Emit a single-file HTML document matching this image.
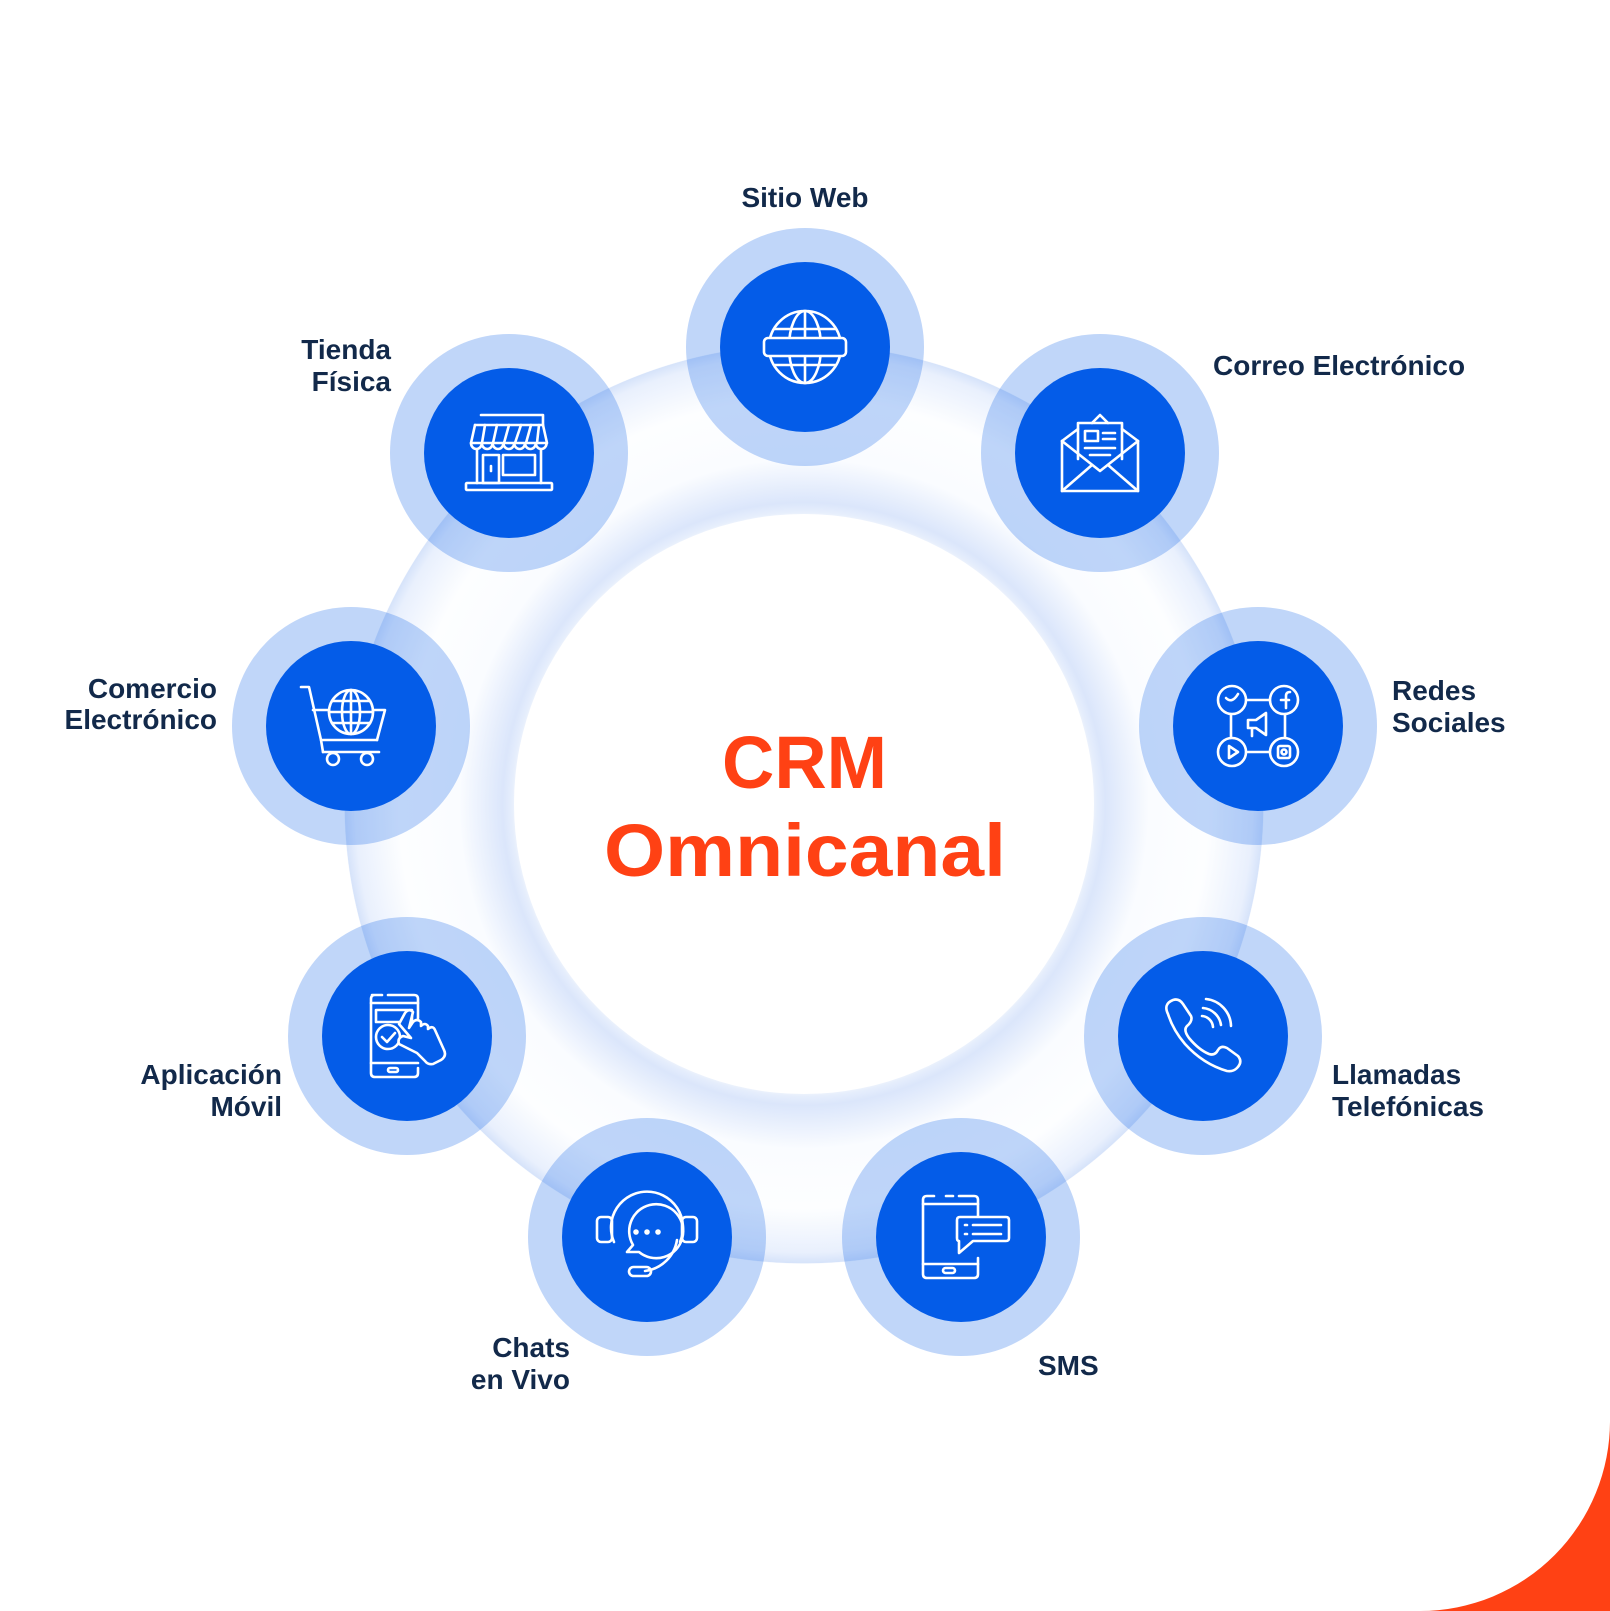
<!DOCTYPE html>
<html><head><meta charset="utf-8"><style>
html,body{margin:0;padding:0;background:#fff;}
svg{display:block;}
</style></head><body>
<svg width="1610" height="1611" viewBox="0 0 1610 1611" xmlns="http://www.w3.org/2000/svg">
<defs>
<radialGradient id="ring" cx="804" cy="804" r="460" gradientUnits="userSpaceOnUse">
<stop offset="0" stop-color="#ffffff"/>
<stop offset="0.615" stop-color="#ffffff"/>
<stop offset="0.635" stop-color="#e6eefc"/>
<stop offset="0.655" stop-color="#dbe6fb"/>
<stop offset="0.75" stop-color="#fafcff"/>
<stop offset="0.88" stop-color="#fdfeff"/>
<stop offset="0.975" stop-color="#e9f0fd"/>
<stop offset="0.998" stop-color="#d6e3fa"/>
<stop offset="1" stop-color="#ffffff" stop-opacity="0"/>
</radialGradient>
</defs>
<rect width="1610" height="1611" fill="#ff4114"/>
<path d="M0 0 H1610 V1420 A190 190 0 0 1 1420 1611 H0 Z" fill="#ffffff"/>
<circle cx="804" cy="804" r="460" fill="url(#ring)"/>
<circle cx="804" cy="804" r="290" fill="#ffffff"/>

<g fill="#045ce8" fill-opacity="0.25">
<circle cx="805" cy="347" r="119"/>
<circle cx="1100" cy="453" r="119"/>
<circle cx="1258" cy="726" r="119"/>
<circle cx="1203" cy="1036" r="119"/>
<circle cx="961" cy="1237" r="119"/>
<circle cx="647" cy="1237" r="119"/>
<circle cx="407" cy="1036" r="119"/>
<circle cx="351" cy="726" r="119"/>
<circle cx="509" cy="453" r="119"/>
</g>
<g fill="#045ce8">
<circle cx="805" cy="347" r="85"/>
<circle cx="1100" cy="453" r="85"/>
<circle cx="1258" cy="726" r="85"/>
<circle cx="1203" cy="1036" r="85"/>
<circle cx="961" cy="1237" r="85"/>
<circle cx="647" cy="1237" r="85"/>
<circle cx="407" cy="1036" r="85"/>
<circle cx="351" cy="726" r="85"/>
<circle cx="509" cy="453" r="85"/>
</g>

<g fill="none" stroke="#fff" stroke-width="2.6" stroke-linecap="round" stroke-linejoin="round">
<g transform="translate(805,347)">
<circle r="36"/>
<ellipse rx="16" ry="36"/>
<line x1="0" y1="-36" x2="0" y2="36"/>
<line x1="-31" y1="-18" x2="31" y2="-18"/>
<line x1="-31" y1="18" x2="31" y2="18"/>
<rect x="-41" y="-9" width="82" height="18" rx="4" fill="#045ce8"/>
</g>
<g transform="translate(1100,453)">
<path d="M-38 -12 V38 H38 V-12"/>
<path d="M-38 -12 L-22 -24 M38 -12 L22 -24"/>
<path d="M-38 38 L-8 12 M38 38 L8 12"/>
<path d="M-38 -12 L0 18 L38 -12"/>
<path d="M-22 6 V-30 H22 V6"/>
<path d="M-8 -30 L0 -38 L8 -30"/>
<rect x="-15" y="-22" width="13" height="10"/>
<line x1="3" y1="-20" x2="15" y2="-20"/><line x1="3" y1="-14" x2="15" y2="-14"/>
<line x1="-15" y1="-5" x2="15" y2="-5"/><line x1="-10" y1="2" x2="10" y2="2"/>
</g>
<g transform="translate(1258,726)">
<rect x="-27" y="-26" width="54" height="52" rx="14"/>
<circle cx="-26" cy="-26" r="14" fill="#045ce8"/>
<circle cx="26" cy="-26" r="14" fill="#045ce8"/>
<circle cx="-26" cy="26" r="14" fill="#045ce8"/>
<circle cx="26" cy="26" r="14" fill="#045ce8"/>
<path d="M-32 -28 q6 6 12 -4"/>
<path d="M28 -18 V-30 q0 -4 4 -4 M23 -26 H31"/>
<path d="M-29 20 V32 L-20 26 Z"/>
<rect x="20" y="20" width="12" height="12" rx="2"/><circle cx="26" cy="26" r="2.5"/>
<path d="M-10 -6 H-2 L8 -13 V9 L-2 2 H-10 Z M-6 2 V10"/>
</g>
<g transform="translate(1203,1036)">
<path d="M-35 -22 Q-40 -32 -30 -36 Q-24 -38 -20 -32 L-12 -20 Q-10 -15 -16 -10 Q-20 -6 -14 2 Q-4 14 6 18 Q12 20 15 14 Q18 9 24 12 L35 20 Q40 26 34 32 Q30 36 24 35 Q0 28 -18 8 Q-30 -6 -35 -22 Z"/>
<path d="M-1 -20 A12 12 0 0 1 10 -9"/>
<path d="M0 -28 A20 20 0 0 1 18 -11"/>
<path d="M3 -37 A28 28 0 0 1 28 -10"/>
</g>
<g transform="translate(961,1237)">
<path d="M-15 -41 H-8 M-2 -41 H13 Q17 -41 17 -37 V-20 M17 21 V37 Q17 41 13 41 H-34 Q-38 41 -38 37 V-37 Q-38 -41 -34 -41 H-27"/>
<line x1="-38" y1="-33" x2="17" y2="-33"/>
<line x1="-38" y1="27" x2="17" y2="27"/>
<rect x="-18" y="31" width="12" height="5" rx="2.5"/>
<path d="M-1 -20 H45 Q48 -20 48 -17 V1 Q48 4 45 4 H12 L-2 16 V4 Q-4 4 -4 1 V-17 Q-4 -20 -1 -20 Z" fill="#045ce8"/>
<line x1="4" y1="-12" x2="6" y2="-12"/><line x1="12" y1="-12" x2="40" y2="-12"/>
<line x1="4" y1="-3" x2="6" y2="-3"/><line x1="12" y1="-3" x2="40" y2="-3"/>
</g>
<g transform="translate(647,1237)">
<path d="M-33 5 A36 36 0 1 1 33 5"/>
<path d="M30 3 A37 37 0 0 1 -2 34"/>
<rect x="-18" y="30" width="22" height="9" rx="4.5"/>
<rect x="-50" y="-20" width="15" height="25" rx="4"/>
<rect x="35" y="-20" width="15" height="25" rx="4"/>
<path d="M-20 15 L-14 8 A27 27 0 1 1 -8 15 Z"/>
<circle cx="-11" cy="-5" r="1.5" fill="#fff"/><circle cx="0" cy="-5" r="1.5" fill="#fff"/><circle cx="11" cy="-5" r="1.5" fill="#fff"/>
</g>
<g transform="translate(407,1036)">
<path d="M-35 -41 H-25 M-19 -41 H7 Q11 -41 11 -37 V-18 M11 32 V37 Q11 41 7 41 H-32 Q-36 41 -36 37 V-37 Q-36 -41 -32 -41"/>
<line x1="-36" y1="-33" x2="11" y2="-33"/>
<line x1="-36" y1="27" x2="11" y2="27"/>
<rect x="-19" y="32" width="10" height="4" rx="2"/>
<rect x="-31" y="-26" width="36" height="12"/>
<circle cx="-19" cy="1" r="12" fill="#045ce8"/>
<path d="M-25 1 L-20 6 L-12 -3"/>
<path d="M-8 -12 L-2 -23 Q2 -28 6 -24 L2 -8 L6 -14 Q10 -18 14 -14 L14 -10 Q18 -14 21 -10 L21 -7 Q26 -11 28 -6 L37 14 Q40 20 34 24 L26 28 Q21 29 18 25 L10 17 L-8 8 Q-10 2 -4 0 L4 2 Z" fill="#045ce8"/>
</g>
<g transform="translate(351,726)">
<path d="M-50 -39 H-42 L-30 14 H26"/>
<path d="M-38 -16 H34 L26 14"/>
<circle cx="-18" cy="33" r="6"/><circle cx="16" cy="33" r="6"/>
<line x1="-30" y1="14" x2="-28" y2="26"/><line x1="-28" y1="26" x2="28" y2="26"/>
<circle cx="0" cy="-14" r="22" fill="#045ce8"/>
<ellipse cx="0" cy="-14" rx="9" ry="22"/>
<line x1="0" y1="-36" x2="0" y2="8"/>
<line x1="-22" y1="-14" x2="22" y2="-14"/>
<line x1="-19" y1="-25" x2="19" y2="-25"/><line x1="-19" y1="-3" x2="19" y2="-3"/>
</g>
<g transform="translate(509,453)">
<path d="M-28 -38 H34 V-28"/>
<path d="M-34 -28 H34"/>
<path d="M-34 -28 L-38 -10 M34 -28 L38 -10"/>
<path d="M-38 -10 a5.4 6 0 0 0 10.8 0 a5.4 6 0 0 0 10.8 0 a5.4 6 0 0 0 10.8 0 a5.4 6 0 0 0 10.8 0 a5.4 6 0 0 0 10.8 0 a5.4 6 0 0 0 10.8 0 a5.4 6 0 0 0 10.8 0 Z"/>
<path d="M-24 -28 L-27 -10 M-12 -28 L-16 -10 M0 -28 L-5 -10 M12 -28 L6 -10 M22 -28 L17 -10 M30 -28 L28 -10"/>
<path d="M-32 -3 V30 M32 -3 V30"/>
<rect x="-26" y="2" width="16" height="28"/>
<line x1="-18" y1="13" x2="-18" y2="18"/>
<rect x="-6" y="2" width="32" height="20"/>
<rect x="-43" y="30" width="86" height="7" rx="1"/>
</g>
</g>

<g font-family="Liberation Sans, Arial, sans-serif" font-weight="bold" font-size="28" fill="#12294a">
<text x="805" y="207" text-anchor="middle">Sitio Web</text>
<text x="1213" y="375">Correo Electrónico</text>
<text x="1392" y="700">Redes</text>
<text x="1392" y="732">Sociales</text>
<text x="1332" y="1084">Llamadas</text>
<text x="1332" y="1116">Telefónicas</text>
<text x="1038" y="1375">SMS</text>
<text x="570" y="1357" text-anchor="end">Chats</text>
<text x="570" y="1389" text-anchor="end">en Vivo</text>
<text x="282" y="1084" text-anchor="end">Aplicación</text>
<text x="282" y="1116" text-anchor="end">Móvil</text>
<text x="217" y="698" text-anchor="end">Comercio</text>
<text x="217" y="729" text-anchor="end">Electrónico</text>
<text x="391" y="359" text-anchor="end">Tienda</text>
<text x="391" y="391" text-anchor="end">Física</text>
</g>
<g font-family="Liberation Sans, Arial, sans-serif" font-weight="bold" font-size="74" fill="#ff4114">
<text x="722" y="788" textLength="165" lengthAdjust="spacingAndGlyphs">CRM</text>
<text x="604" y="876" textLength="402" lengthAdjust="spacingAndGlyphs">Omnicanal</text>
</g>
</svg>
</body></html>
